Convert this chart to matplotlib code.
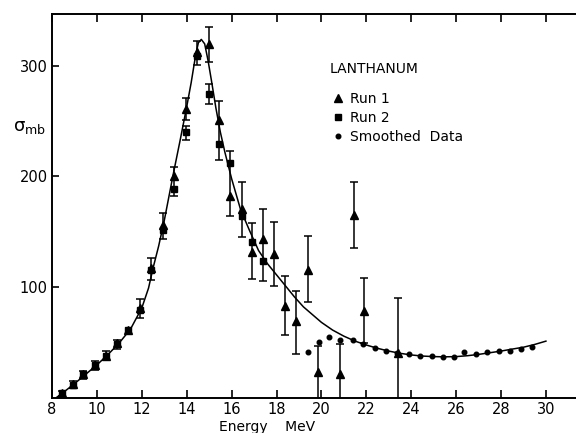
import matplotlib
matplotlib.use("Agg")
import matplotlib.pyplot as plt
import numpy as np

# Run 1 (triangles)
run1_x = [8.45, 8.92, 9.4, 9.9, 10.4, 10.9, 11.4, 11.9, 12.4, 12.93, 13.42, 13.96,
          14.45, 14.98, 15.45, 15.92, 16.45, 16.92, 17.38, 17.9, 18.38, 18.87, 19.4,
          19.87, 20.85, 21.44, 21.9, 23.4]
run1_y = [4, 12, 21, 29, 38, 49, 61, 81, 117, 156, 200, 261,
          313, 320, 251, 182, 171, 132, 143, 130, 83, 69, 115,
          23, 21, 165, 78, 40]

# Run 2 (squares)
run2_x = [8.45, 8.92, 9.4, 9.9, 10.4, 10.9, 11.4, 11.9, 12.4, 12.93, 13.42, 13.96,
          14.45, 14.98, 15.45, 15.93, 16.45, 16.92, 17.38]
run2_y = [4, 11, 21, 29, 38, 48, 61, 79, 115, 152, 189, 240,
          309, 275, 229, 212, 164, 141, 123.5]

# error bars: energy, lower end, upper end
err_x = [8.45, 8.92, 9.4, 9.9, 10.4, 10.9, 11.9, 12.4, 12.93, 13.42, 13.96, 13.96,
         14.45, 14.98, 14.98, 15.45, 15.92, 16.45, 16.92, 17.38, 17.9, 18.38, 18.87,
         19.4, 19.87, 20.85, 21.44, 21.9, 23.4]
err_lo = [1.5, 8.5, 17, 25, 34, 44, 72, 106, 143, 182, 251, 233,
          301, 304, 266, 215, 164, 145, 107, 105, 101, 57, 39,
          86, -5, -5, 135, 49, -5]
err_hi = [6, 14.5, 24, 33, 42, 52, 89, 126, 167, 209, 271, 246,
          323, 335, 284, 268, 223, 195, 158, 171, 159, 110, 96,
          146, 47, 48, 195, 108, 90]

# smoothed data (dots)
smooth_x = [19.39, 19.9, 20.35, 20.85, 21.39, 21.87, 22.39, 22.88, 23.38, 23.88,
            24.4, 24.93, 25.43, 25.9, 26.35, 26.9, 27.39, 27.9, 28.4, 28.9, 29.4]
smooth_y = [41, 50.5, 54.5, 52, 52, 48.4, 44.5, 42.2, 40, 39.4,
            37.6, 37.6, 37, 37, 41.5, 39, 41, 42.4, 42, 44, 46]

# fitted curve
fit_x = [8.2, 8.5, 9.0, 9.5, 10.0, 10.5, 11.0, 11.5, 12.0, 12.3, 12.5, 12.75, 13.0,
         13.4, 13.7, 14.0, 14.2, 14.4, 14.52, 14.65, 14.8, 14.95, 15.1, 15.3, 15.5,
         15.7, 16.0, 16.4, 16.8, 17.2, 17.6, 18.0, 18.4, 18.8, 19.2, 19.6, 20.0,
         20.5, 21.0, 21.5, 22.0, 22.5, 23.0, 23.5, 24.0, 24.5, 25.0, 25.5, 26.0,
         26.5, 27.0, 27.5, 28.0, 28.5, 29.0, 29.5, 30.0]
fit_y = [0, 4.5, 12.5, 21, 29.5, 39, 49.5, 62, 81, 99, 117, 137, 160,
         202, 232, 263, 285, 310, 321, 324, 320, 305, 287, 262, 240,
         222, 198, 170, 151, 133, 121, 111, 101, 91, 82, 75, 68,
         61, 55.5, 51, 47.5, 44.5, 42, 40, 38.5, 37.5, 37, 36.8, 37,
         37.8, 39, 40.5, 42, 43.8, 45.5, 48, 51]

xticks = list(range(8, 31, 2))
yticks = [100, 200, 300]


def main():
    fig = plt.figure(figsize=(5.76, 4.33), dpi=100)
    ax = fig.add_axes([52/576, 35.5/433, 524/576, 383.5/433])

    ax.plot(fit_x, fit_y, color='black', lw=1.1, zorder=2)

    lo = np.array(err_lo)
    hi = np.array(err_hi)
    ax.errorbar(err_x, (lo + hi) / 2, yerr=(hi - lo) / 2, fmt='none',
                ecolor='black', elinewidth=1.1, capsize=3, capthick=1.1, zorder=3)

    ax.plot(run1_x, run1_y, '^', color='black', ms=5.5, ls='none',
            label='Run 1', zorder=4)
    ax.plot(run2_x, run2_y, 's', color='black', ms=4.2, ls='none',
            label='Run 2', zorder=4)
    ax.plot(smooth_x, smooth_y, 'o', color='black', ms=3.3, ls='none',
            label='Smoothed  Data', zorder=4)

    ax.set_xlim(8, 31.34)
    ax.set_ylim(0, 347)
    ax.set_xticks(xticks)
    ax.set_yticks(yticks)
    ax.tick_params(axis='x', direction='in', top=True, length=6, width=1.2,
                   labelsize=10.5, pad=3)
    ax.tick_params(axis='y', direction='in', length=5, width=1.2,
                   labelsize=10.5, pad=3)
    ax.spines['right'].set_visible(False)
    for s in ['left', 'top', 'bottom']:
        ax.spines[s].set_linewidth(1.4)

    ax.set_xlabel('Energy    MeV', fontsize=10)
    ax.xaxis.set_label_coords(0.411, -0.058)
    # upright sigma with "mb" subscript
    ax.text(-0.074, 0.705, r'$\mathrm{\sigma_{mb}}$', transform=ax.transAxes,
            fontsize=13, ha='left', va='center')

    ax.text(0.530, 0.857, 'LANTHANUM', transform=ax.transAxes,
            fontsize=10, ha='left', va='center')
    ax.legend(loc='upper left', bbox_to_anchor=(0.536, 0.797), frameon=False,
              fontsize=10, borderpad=0, borderaxespad=0, handlelength=0.8,
              handletextpad=0.45, labelspacing=0.35)

    fig.savefig('out.png', dpi=100)


if __name__ == "__main__":
    main()
